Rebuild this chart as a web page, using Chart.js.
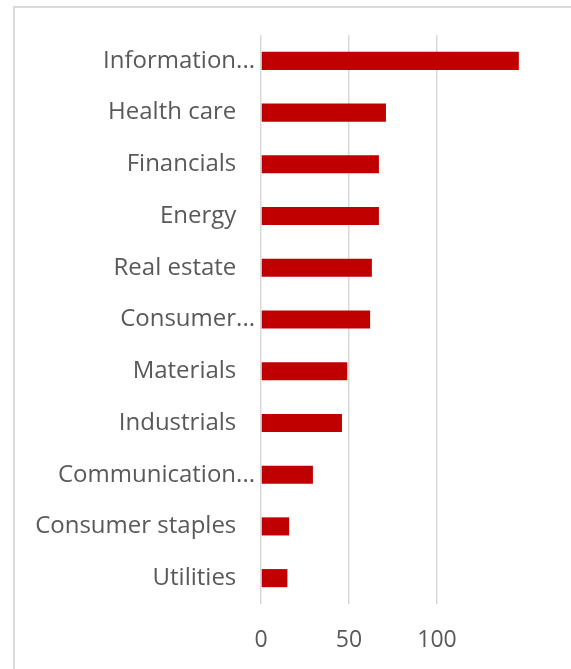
<!DOCTYPE html>
<html><head><meta charset="utf-8">
<script src="https://cdn.jsdelivr.net/npm/chart.js@4"></script>
<style>
html,body{margin:0;padding:0;background:#fff;overflow:hidden;}
#frame{position:absolute;left:13px;top:6px;width:700px;height:800px;border:2px solid #d9d9d9;box-sizing:border-box;}
#wrap{position:absolute;left:0;top:0;width:571px;height:669px;}
</style></head>
<body>
<div id="frame"></div>
<div id="wrap"><canvas id="c" width="571" height="669"></canvas></div>
<script>
const categories = ["Information...","Health care","Financials","Energy","Real estate","Consumer...","Materials","Industrials","Communication...","Consumer staples","Utilities"];
const values = [146.5, 71, 67, 67, 63, 62, 49, 46, 29.5, 16, 15];
const xTicks = [0, 50, 100];

new Chart(document.getElementById('c'), {
  type: 'bar',
  data: { labels: categories, datasets: [{ data: values, backgroundColor: '#C00000', borderWidth: 0, barPercentage: 0.35, categoryPercentage: 1 }] },
  options: {
    indexAxis: 'y', responsive: false, animation: false,
    layout: { padding: { top: 35, right: 46, bottom: 0, left: 0 } },
    plugins: { legend: { display: false }, tooltip: { enabled: false } },
    scales: {
      x: {
        min: 0, max: 150,
        afterBuildTicks: s => { s.ticks = xTicks.map(v => ({ value: v })); },
        afterFit: s => { s.height = 65; },
        grid: { color: '#d9d9d9', lineWidth: 1.5, drawTicks: false },
        border: { display: false },
        ticks: { padding: 23, color: '#595959', font: { family: 'Open Sans', size: 23 } }
      },
      y: {
        afterFit: s => { s.width = 261; },
        grid: { display: false, drawTicks: false },
        border: { display: false },
        ticks: {
          padding: 6, color: '#595959', font: { family: 'Open Sans', size: 24 },
          callback: function(v) { const l = this.getLabelForValue(v); return l.endsWith('...') ? l : l + '   '; }
        }
      }
    }
  }
});
</script>
</body></html>
